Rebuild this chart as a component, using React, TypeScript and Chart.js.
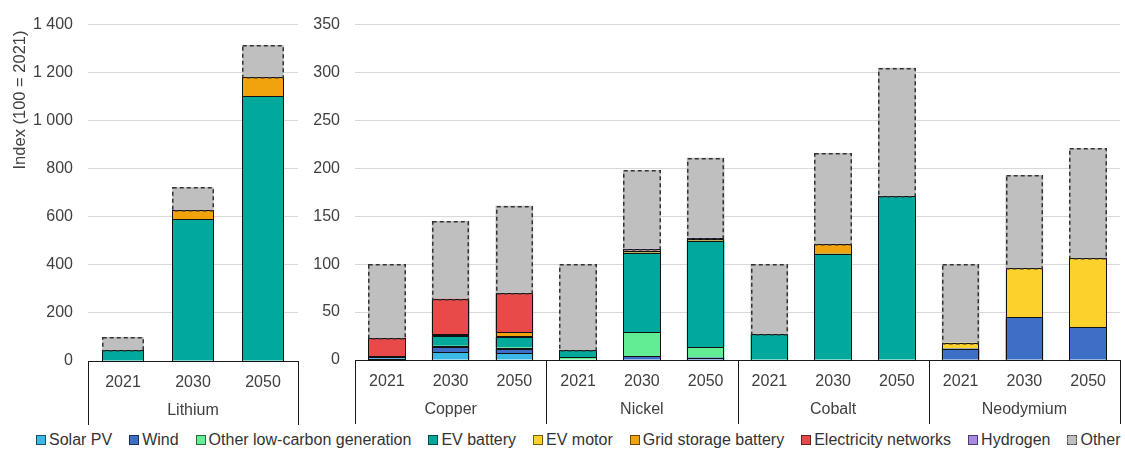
import React, { useEffect, useRef } from 'react';
import { Chart, registerables } from 'chart.js';

Chart.register(...registerables);

// Category structure
const years = ['2021', '2030', '2050'];
const minerals = ['Lithium', 'Copper', 'Nickel', 'Cobalt', 'Neodymium'];

// Index values (100 = 2021), ordered mineral by mineral, each 2021 / 2030 / 2050
//                    Lithium          Copper          Nickel            Cobalt          Neodymium
const solarPV =       [0, 0, 0,        1.5, 8, 7,      0, 0, 0,          0, 0, 0,        0, 0, 0];
const wind =          [0, 0, 0,        1.5, 6, 5,      0.5, 4, 2.5,      0, 0, 0,        12, 45, 34];
const otherLowCarbon =[0, 0, 0,        0.5, 1, 1,      2.5, 25, 11,      0, 0, 0,        0, 0, 0];
const evBattery =     [44, 590, 1103,  0.5, 10, 11,    7, 83, 111,       27, 111, 171,   0, 0, 0];
const evMotor =       [0, 0, 0,        0, 1, 1,        0, 0, 0,          0, 0, 0,        6, 51, 72];
const gridStorage =   [0, 38, 77,      0, 1, 4,        0, 2, 1.5,        0, 10, 0,       0, 0, 0];
const elecNetworks =  [0, 0, 0,        19, 37, 41,     0, 0, 0,          0, 0, 0,        0, 0, 0];
const hydrogen =      [0, 0, 0,        0, 0, 0,        0, 2, 1.5,        0, 0, 0,        0, 0, 0];
const other =         [56, 95, 135,    77, 81, 91,     90, 82, 83.5,     73, 95, 134,    82, 97, 115];

// Axis ticks
const lithiumTicks = [0, 200, 400, 600, 800, 1000, 1200, 1400];
const otherMineralTicks = [0, 50, 100, 150, 200, 250, 300, 350];

const yAxisTitle = 'Index (100 = 2021)';

const FONT = '"Liberation Sans", Arial, Helvetica, sans-serif';
const TEXT = '#404040';

const series = [
  { label: 'Solar PV', data: solarPV, color: '#3cb8e6' },
  { label: 'Wind', data: wind, color: '#3d6fc6' },
  { label: 'Other low-carbon generation', data: otherLowCarbon, color: '#62ec93' },
  { label: 'EV battery', data: evBattery, color: '#00a99b' },
  { label: 'EV motor', data: evMotor, color: '#fdd12b' },
  { label: 'Grid storage battery', data: gridStorage, color: '#f0a30c' },
  { label: 'Electricity networks', data: elecNetworks, color: '#e84949' },
  { label: 'Hydrogen', data: hydrogen, color: '#a98ae0' },
  { label: 'Other', data: other, color: '#bfbfbf' },
];

const fmt = (v: number) => String(v).replace(/\B(?=(\d{3})+(?!\d))/g, '\u00a0');

// Crisp outlines for the stacked segments: solid for the technologies, dashed for "Other"
const segmentOutlines = {
  id: 'segmentOutlines',
  afterDatasetsDraw(chart: any) {
    const ctx = chart.ctx;
    const sets = chart.data.datasets;
    const otherIdx = sets.findIndex((d: any) => d.label === 'Other');
    const rectOf = (el: any) => {
      const { x, y, base, width } = el.getProps(['x', 'y', 'base', 'width'], true);
      const l = Math.round(x - width / 2);
      const r = Math.round(x + width / 2);
      const t = Math.round(Math.min(y, base));
      const b = Math.round(Math.max(y, base));
      return { l, r, t, b };
    };
    ctx.save();
    ctx.lineWidth = 1;
    ctx.strokeStyle = '#111';
    sets.forEach((ds: any, di: number) => {
      if (di === otherIdx) return;
      const meta = chart.getDatasetMeta(di);
      meta.data.forEach((el: any, i: number) => {
        if (ds.data[i] == null) return;
        const { l, r, t, b } = rectOf(el);
        ctx.strokeRect(l + 0.5, t + 0.5, r - l - 1, b - t);
      });
    });
    if (otherIdx >= 0) {
      const meta = chart.getDatasetMeta(otherIdx);
      ctx.setLineDash([4, 3]);
      ctx.lineWidth = 1.5;
      ctx.strokeStyle = '#333';
      meta.data.forEach((el: any) => {
        const { l, r, t, b } = rectOf(el);
        ctx.strokeRect(l + 0.75, t + 0.75, r - l - 1.5, b - t);
      });
    }
    ctx.restore();
  },
};

// Boxed mineral grouping under the year labels, plus the rotated y-axis caption
const groupBoxes = {
  id: 'groupBoxes',
  afterDraw(chart: any) {
    const opts = chart.options.plugins.groupBoxes;
    const groups: string[] = opts.groups;
    const xs = chart.scales.x;
    const n = chart.data.labels.length;
    const per = n / groups.length;
    const top = chart.chartArea.bottom;
    const ctx = chart.ctx;
    ctx.save();
    ctx.strokeStyle = '#1a1a1a';
    ctx.lineWidth = 1;
    for (let g = 0; g <= groups.length; g++) {
      const px = Math.round(xs.left + (xs.width * g * per) / n) + 0.5;
      ctx.beginPath();
      ctx.moveTo(px, top);
      ctx.lineTo(px, top + 64);
      ctx.stroke();
    }
    ctx.fillStyle = TEXT;
    ctx.font = `16px ${FONT}`;
    ctx.textAlign = 'center';
    ctx.textBaseline = 'middle';
    groups.forEach((name, g) => {
      const cx = xs.left + (xs.width * (g + 0.5) * per) / n;
      ctx.fillText(name, cx, top + 50);
    });
    if (opts.caption) {
      ctx.translate(20, 100);
      ctx.rotate(-Math.PI / 2);
      ctx.font = `16.5px ${FONT}`;
      ctx.fillText(opts.caption, 0, 0);
    }
    ctx.restore();
  },
};

function makeConfig(start: number, end: number, groups: string[], ticks: number[], caption: string | null, pad: any, yWidth: number) {
  const labels: string[] = [];
  groups.forEach(() => years.forEach((y) => labels.push(y)));
  return {
    type: 'bar',
    data: {
      labels,
      datasets: series.map((s) => ({
        label: s.label,
        data: s.data.slice(start, end).map((v) => (v === 0 ? null : v)),
        backgroundColor: s.color,
        borderWidth: 0,
        inflateAmount: 0,
        barPercentage: 0.59,
        categoryPercentage: 1,
      })),
    },
    options: {
      responsive: false,
      animation: false,
      layout: { padding: pad },
      plugins: {
        legend: { display: false },
        tooltip: { enabled: false },
        groupBoxes: { groups, caption },
      },
      scales: {
        x: {
          stacked: true,
          grid: { display: false, drawTicks: false },
          border: { display: true, color: '#1a1a1a', width: 1 },
          ticks: { color: TEXT, font: { family: FONT, size: 16 }, padding: 12, maxRotation: 0, autoSkip: false },
          afterFit: (s: any) => { s.height = 64; },
        },
        y: {
          stacked: true,
          min: 0,
          max: ticks[ticks.length - 1],
          afterBuildTicks: (s: any) => { s.ticks = ticks.map((v) => ({ value: v })); },
          grid: { color: '#d9d9d9', lineWidth: 1, drawTicks: false },
          border: { display: false },
          ticks: { color: TEXT, font: { family: FONT, size: 16 }, padding: 15, callback: (v: number) => fmt(v) },
          afterFit: (s: any) => { s.width = yWidth; },
        },
      },
    },
    plugins: [segmentOutlines, groupBoxes],
  };
}

const legendBox = (color: string, dashed: boolean) => ({
  display: 'inline-block',
  width: 8,
  height: 8,
  marginRight: 3,
  background: color,
  border: dashed ? '1px dashed #555' : '1px solid rgba(0,0,0,0.55)',
  verticalAlign: 'middle',
  position: 'relative' as const,
  top: -1,
});

export default function App() {
  const leftRef = useRef<HTMLCanvasElement>(null);
  const rightRef = useRef<HTMLCanvasElement>(null);

  useEffect(() => {
    const left = new Chart(leftRef.current as HTMLCanvasElement, makeConfig(0, 3, minerals.slice(0, 1), lithiumTicks, yAxisTitle, { top: 22, right: 2, bottom: 5, left: 0 }, 88) as any);
    const right = new Chart(rightRef.current as HTMLCanvasElement, makeConfig(3, 15, minerals.slice(1), otherMineralTicks, null, { top: 22, right: 5, bottom: 6, left: 0 }, 55) as any);
    return () => {
      left.destroy();
      right.destroy();
    };
  }, []);

  return (
    <div style={{ position: 'absolute', left: 0, top: 0, width: 1125, height: 454, background: '#fff', overflow: 'hidden' }}>
      <canvas ref={leftRef} width={300} height={430} style={{ position: 'absolute', left: 0, top: 0 }} />
      <canvas ref={rightRef} width={825} height={430} style={{ position: 'absolute', left: 300, top: 0 }} />
      <div
        style={{
          position: 'absolute',
          left: 36,
          top: 430,
          height: 20,
          lineHeight: '20px',
          display: 'flex',
          gap: 17,
          whiteSpace: 'nowrap',
          fontFamily: FONT,
          fontSize: 16,
          color: '#333',
        }}
      >
        {series.map((s) => (
          <span key={s.label}>
            <span style={legendBox(s.color, s.label === 'Other')} />
            {s.label}
          </span>
        ))}
      </div>
    </div>
  );
}
